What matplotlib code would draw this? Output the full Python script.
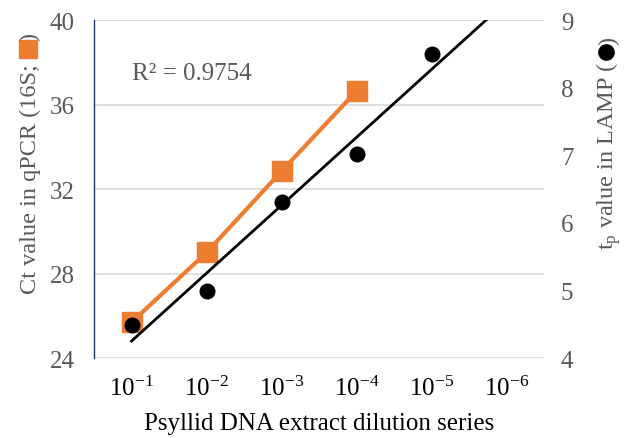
import numpy as np
import matplotlib.pyplot as plt
from matplotlib.lines import Line2D

plt.rcParams['font.family'] = ['Liberation Serif', 'DejaVu Sans']
plt.rcParams['mathtext.fontset'] = 'custom'
plt.rcParams['mathtext.rm'] = 'Liberation Serif'
plt.rcParams['mathtext.it'] = 'Liberation Serif:italic'

# dilution steps
dilutions = ['$\\mathregular{10^{-1}}$', '$\\mathregular{10^{-2}}$', '$\\mathregular{10^{-3}}$',
             '$\\mathregular{10^{-4}}$', '$\\mathregular{10^{-5}}$', '$\\mathregular{10^{-6}}$']
qpcr_ct = [25.7, 29.0, 32.85, 36.65]          # 16S qPCR, left axis
lamp_tp = [4.49, 4.99, 6.31, 7.02, 8.50]      # LAMP tp, right axis

gray = '#595959'
orange = '#ED7D31'

fig = plt.figure(figsize=(6.27, 4.39), dpi=100)
ax = fig.add_axes([0.150, 0.182, 0.718, 0.770])
ax2 = ax.twinx()

x_all = np.arange(1, len(dilutions) + 1)
xq = x_all[:len(qpcr_ct)]
xl = x_all[:len(lamp_tp)]

ax.set_xlim(0.5, 6.5)
ax.set_ylim(24, 40)
ax.set_yticks([24, 28, 32, 36, 40])
ax.grid(axis='y', color='#D9D9D9', lw=1.2)
ax.set_axisbelow(True)
ax.set_xticks(x_all)
ax.set_xticklabels(dilutions)
ax.tick_params(length=0, labelsize=18, colors='black', pad=13)
ax.tick_params(axis='y', colors=gray, pad=14)
for s in ['top', 'right', 'bottom']:
    ax.spines[s].set_visible(False)
ax.spines['left'].set_color('#1F3864')
ax.spines['left'].set_linewidth(1.0)

ax.plot(xq, qpcr_ct, color=orange, lw=3, marker='s', ms=14, zorder=3)

# LAMP points and linear trendline
ax2.set_ylim(4, 9)
ax2.set_yticks(range(4, 10))
ax2.tick_params(length=0, labelsize=18, colors=gray, pad=12)
for s in ax2.spines.values():
    s.set_visible(False)
ax2.plot(xl, lamp_tp, 'o', color='black', ms=10.5, zorder=4)
k, b = np.polyfit(xl, lamp_tp, 1)
xt = np.array([1, 6.5])
ax2.plot(xt, k * xt + b, color='black', lw=2, zorder=3)

ax.text(0.085, 0.825, 'R² = 0.9754', transform=ax.transAxes, fontsize=18, color=gray)

ax.set_xlabel('Psyllid DNA extract dilution series', fontsize=18, color='black', labelpad=8)


# axis titles with coloured marker glyphs placed after the text
def side_label(x, y0, text, marker, mcolor, msize):
    t1 = fig.text(x, y0, text, rotation=90, fontsize=17.5, color=gray, ha='center', va='bottom')
    fig.canvas.draw()
    top = t1.get_window_extent().y1 / fig.bbox.height
    step = 17 / fig.bbox.height
    fig.add_artist(Line2D([x - 0.004], [top + step / 2], marker=marker, ms=msize,
                          color=mcolor, transform=fig.transFigure))
    fig.text(x, top + step, ')', rotation=90, fontsize=17.5, color=gray, ha='center', va='bottom')


side_label(0.048, 0.33, 'Ct value in qPCR (16S; ', 's', orange, 13)
side_label(0.970, 0.43, 't$_\\mathregular{p}$ value in LAMP (', 'o', 'black', 11)

fig.savefig('out.png', dpi=100)
